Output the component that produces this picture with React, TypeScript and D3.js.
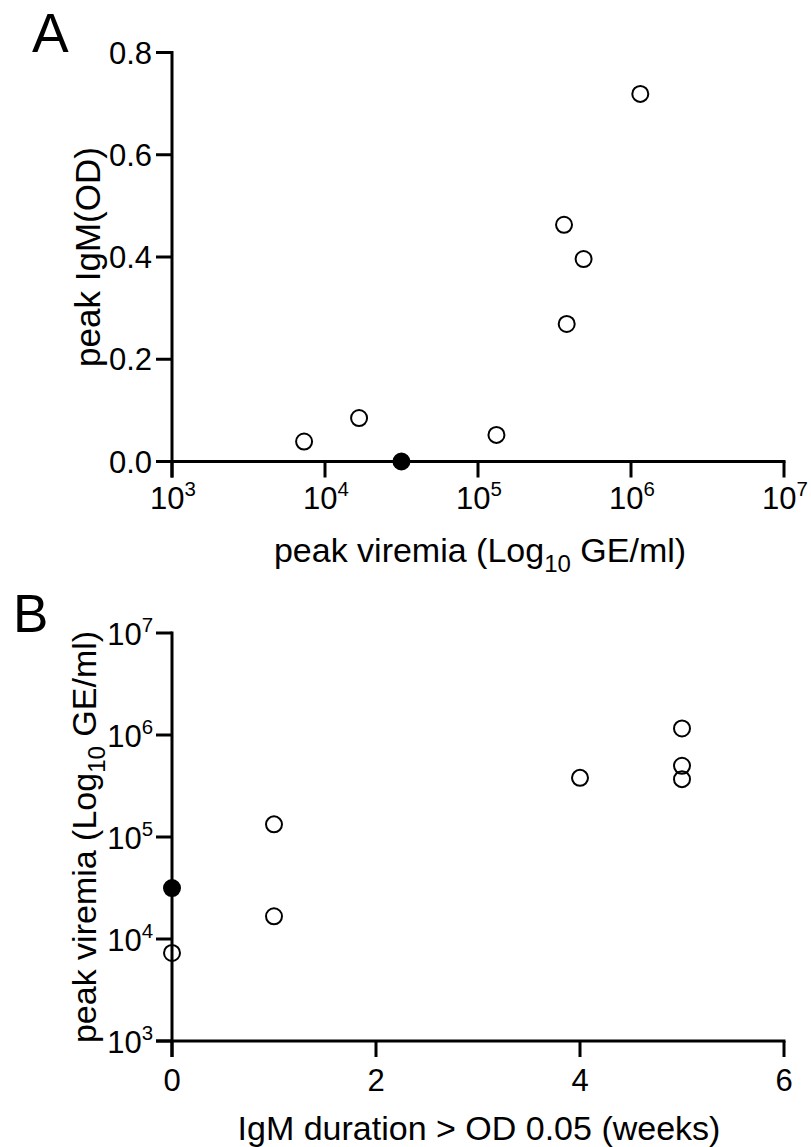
import React from "react";
import * as d3 from "d3";

// Panel A data (per animal)
const viremiaA = [7.3e3, 1.67e4, 3.16e4, 1.32e5, 3.65e5, 3.8e5, 4.9e5, 1.15e6];
const igmA = [0.039, 0.085, 0.0, 0.052, 0.463, 0.269, 0.396, 0.719];
const filledA = [false, false, true, false, false, false, false, false];

// Panel B data
const weeksB = [0, 1, 0, 1, 5, 4, 5, 5];
const viremiaB = [7.3e3, 1.67e4, 3.16e4, 1.33e5, 3.69e5, 3.8e5, 4.99e5, 1.16e6];
const filledB = [false, false, true, false, false, false, false, false];

const yTicksA = [0, 0.2, 0.4, 0.6, 0.8];
const yTickLabelsA = ["0.0", "0.2", "0.4", "0.6", "0.8"];
const logTicks = [1e3, 1e4, 1e5, 1e6, 1e7];
const logExps = ["3", "4", "5", "6", "7"];
const xTicksB = [0, 2, 4, 6];

const FONT = "'Liberation Sans', Arial, Helvetica, sans-serif";

function PowLabel({ x, y, exp, anchor, size }: { x: number; y: number; exp: string; anchor: string; size: number }) {
  return (
    <text x={x} y={y} textAnchor={anchor as any} fontFamily={FONT} fontSize={size} fill="#000">
      <tspan>10</tspan>
      <tspan dy={-size * 0.42} fontSize={size * 0.66}>{exp}</tspan>
    </text>
  );
}

export default function App() {
  const axL = 172, axR = 784;
  // Panel A
  const xA = d3.scaleLog().domain([1e3, 1e7]).range([axL, axR]);
  const yA = d3.scaleLinear().domain([0, 0.8]).range([461.5, 52.5]);
  // Panel B
  const xB = d3.scaleLinear().domain([0, 6]).range([axL, axR]);
  const yB = d3.scaleLog().domain([1e3, 1e7]).range([1041, 633]);

  const sw = 3;
  const tl = 16;
  const r = 8;
  const tickFs = 31;
  const titleFs = 34;

  return (
    <svg width={811} height={1147} style={{ position: "absolute", left: 0, top: 0, background: "#fff" }}>
      <rect x={0} y={0} width={811} height={1147} fill="#fff" />
      {/* Panel letters */}
      <text x={32} y={52} fontFamily={FONT} fontSize={55} fill="#000">A</text>
      <text x={13} y={632} fontFamily={FONT} fontSize={53} fill="#000">B</text>

      {/* ===== Panel A ===== */}
      <g stroke="#000" strokeWidth={sw} fill="none">
        <line x1={axL} x2={axL} y1={yA(0.8) - 1.5} y2={yA(0) + tl} />
        <line x1={axL - tl} x2={axR + 1.5} y1={yA(0)} y2={yA(0)} />
        {yTicksA.map((t) => (
          <line key={"ya" + t} x1={axL - tl} x2={axL} y1={yA(t)} y2={yA(t)} />
        ))}
        {logTicks.map((t) => (
          <line key={"xa" + t} x1={xA(t)} x2={xA(t)} y1={yA(0)} y2={yA(0) + tl} />
        ))}
      </g>
      {yTicksA.map((t, i) => (
        <text key={"yal" + t} x={152} y={yA(t) + 11} textAnchor="end" fontFamily={FONT} fontSize={tickFs} fill="#000">
          {yTickLabelsA[i]}
        </text>
      ))}
      {logTicks.map((t, i) => (
        <PowLabel key={"xal" + t} x={xA(t) + 1} y={509} exp={logExps[i]} anchor="middle" size={tickFs} />
      ))}
      <text transform={`translate(100,${(yA(0) + yA(0.8)) / 2}) rotate(-90)`} textAnchor="middle" fontFamily={FONT} fontSize={35} fill="#000">
        peak IgM(OD)
      </text>
      <text x={(axL + axR) / 2 + 2} y={562} textAnchor="middle" fontFamily={FONT} fontSize={titleFs} fill="#000">
        <tspan>peak viremia (Log</tspan>
        <tspan dy={10} fontSize={24}>10</tspan>
        <tspan dy={-10}> GE/ml)</tspan>
      </text>
      {viremiaA.map((v, i) => (
        <circle key={"pa" + i} cx={xA(v)} cy={yA(igmA[i])} r={r} fill={filledA[i] ? "#000" : "#fff"} stroke="#000" strokeWidth={2} />
      ))}

      {/* ===== Panel B ===== */}
      <g stroke="#000" strokeWidth={sw} fill="none">
        <line x1={axL} x2={axL} y1={yB(1e7) - 1.5} y2={yB(1e3) + tl} />
        <line x1={axL - tl} x2={axR + 1.5} y1={yB(1e3)} y2={yB(1e3)} />
        {logTicks.map((t) => (
          <line key={"yb" + t} x1={axL - tl} x2={axL} y1={yB(t)} y2={yB(t)} />
        ))}
        {xTicksB.map((t) => (
          <line key={"xb" + t} x1={xB(t)} x2={xB(t)} y1={yB(1e3)} y2={yB(1e3) + tl} />
        ))}
      </g>
      {logTicks.map((t, i) => (
        <PowLabel key={"ybl" + t} x={153} y={yB(t) + 12} exp={logExps[i]} anchor="end" size={tickFs} />
      ))}
      {xTicksB.map((t) => (
        <text key={"xbl" + t} x={xB(t)} y={1091} textAnchor="middle" fontFamily={FONT} fontSize={tickFs} fill="#000">
          {t}
        </text>
      ))}
      <text transform={`translate(96,${(yB(1e3) + yB(1e7)) / 2}) rotate(-90)`} textAnchor="middle" fontFamily={FONT} fontSize={titleFs} fill="#000">
        <tspan>peak viremia (Log</tspan>
        <tspan dy={9} fontSize={24}>10</tspan>
        <tspan dy={-9}> GE/ml)</tspan>
      </text>
      <text x={(axL + axR) / 2 + 1} y={1140} textAnchor="middle" fontFamily={FONT} fontSize={titleFs} fill="#000">
        IgM duration &gt; OD 0.05 (weeks)
      </text>
      {weeksB.map((w, i) => (
        <circle key={"pb" + i} cx={xB(w)} cy={yB(viremiaB[i])} r={r} fill={filledB[i] ? "#000" : "none"} stroke="#000" strokeWidth={2} />
      ))}
    </svg>
  );
}
